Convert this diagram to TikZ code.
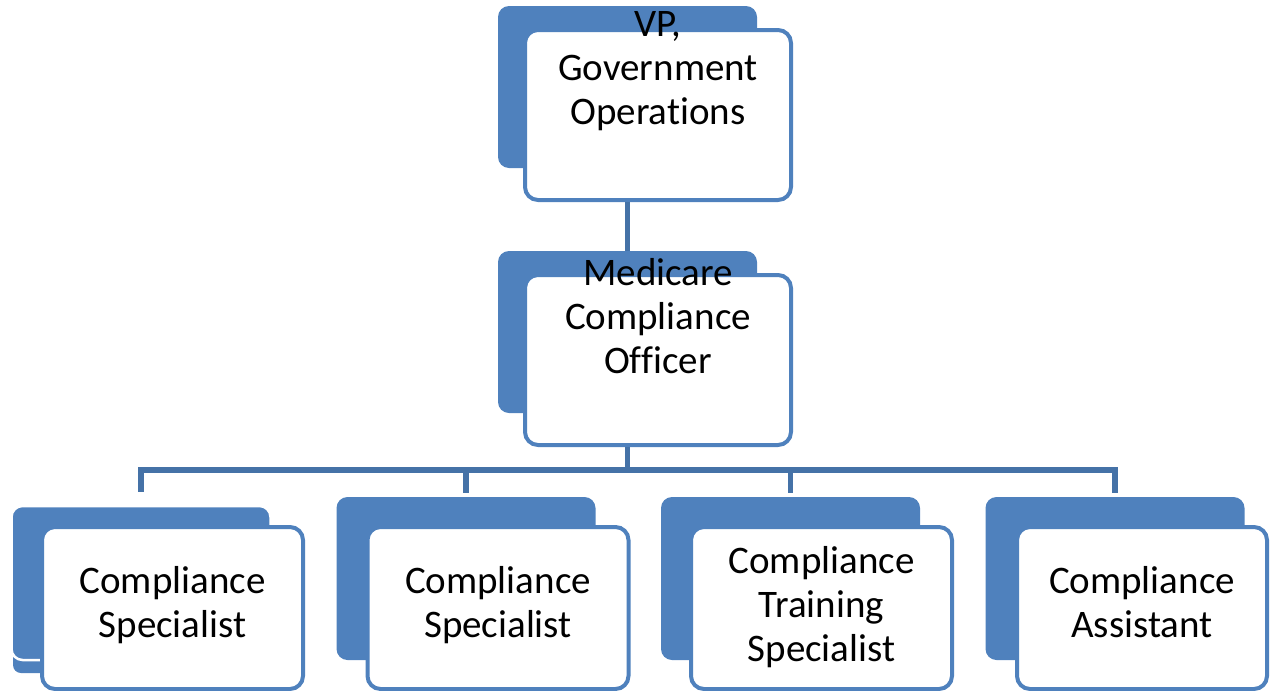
\documentclass[tikz,border=0pt]{standalone}
\usepackage{fontspec}
\setmainfont{Carlito}[Ligatures=NoCommon]
\usetikzlibrary{positioning}
\definecolor{boxblue}{RGB}{79,129,189}
\definecolor{linkblue}{RGB}{69,114,167}
\tikzset{
  % blue card behind each box
  backcard/.style={fill=boxblue, rounded corners=11pt, inner sep=0pt,
    minimum width=259pt, minimum height=162pt},
  % white front box
  frontcard/.style={fill=white, draw=boxblue, line width=4pt, rounded corners=13pt,
    inner sep=0pt, minimum width=266pt, minimum height=170pt},
  lowcard/.style={frontcard, minimum width=261pt, minimum height=162pt},
  % job titles (base = last line)
  jobtitle/.style={font=\fontsize{39pt}{44pt}\selectfont, align=center, anchor=base, inner sep=0pt},
  % reporting lines
  link/.style={draw=linkblue, line width=5.5pt},
}

\begin{document}
\begin{tikzpicture}[x=1pt, y=-1pt]
  \useasboundingbox (0,0) rectangle (1270,691);

  % VP
  \node[backcard] (vpback) at (627.5,87) {};
  \node[frontcard] (vp) at (658,115) {};
  \node[jobtitle] (vptext) at (658,124) {VP,\\Government\\Operations};

  % Medicare compliance officer
  \node[backcard] (mcoback) at (627.5,332) {};
  \node[frontcard] (mco) at (658,360) {};
  \node[jobtitle] (mcotext) at (658,373) {Medicare\\Compliance\\Officer};

  % staff
  \fill[boxblue, rounded corners=8pt] (13,620) rectangle (80,673);
  \node[backcard, minimum height=154pt, draw=white, line width=2.5pt] (cs1back) at (141,583) {};
  \node[backcard, minimum height=163pt] (cs2back) at (466,578.5) {};
  \node[backcard, minimum height=163pt] (ctsback) at (790.5,578.5) {};
  \node[backcard, minimum height=163pt] (caback) at (1115,578.5) {};

  \node[lowcard] (cs1) at (172.5,608) {};
  \node[lowcard] (cs2) at (498,608) {};
  \node[lowcard] (cts) at (821.5,608) {};
  \node[lowcard, minimum width=250pt] (ca) at (1142,608) {};

  \node[jobtitle] (cs1text) at (cs1 |- 0,637) {Compliance\\Specialist};
  \node[jobtitle] (cs2text) at (cs2 |- 0,637) {Compliance\\Specialist};
  \node[jobtitle] (ctstext) at (cts |- 0,661) {Compliance\\Training\\Specialist};
  \node[jobtitle] (catext) at (ca |- 0,637) {Compliance\\Assistant};

  % lines
  \coordinate (bus) at (0,470);
  \draw[link] (vpback.south |- vp.south) -- (mcoback.north);
  \draw[link] (mcoback.south |- mco.south) -- (mcoback.south |- bus);
  \draw[link, shorten <=13pt, shorten >=4pt] (cs1back.north) -- (cs1back.north |- bus)
    -- (caback.north |- bus) -- (caback.north);
  \draw[link, shorten <=4pt] (cs2back.north) -- (cs2back.north |- bus);
  \draw[link, shorten <=4pt] (ctsback.north) -- (ctsback.north |- bus);
\end{tikzpicture}
\end{document}
